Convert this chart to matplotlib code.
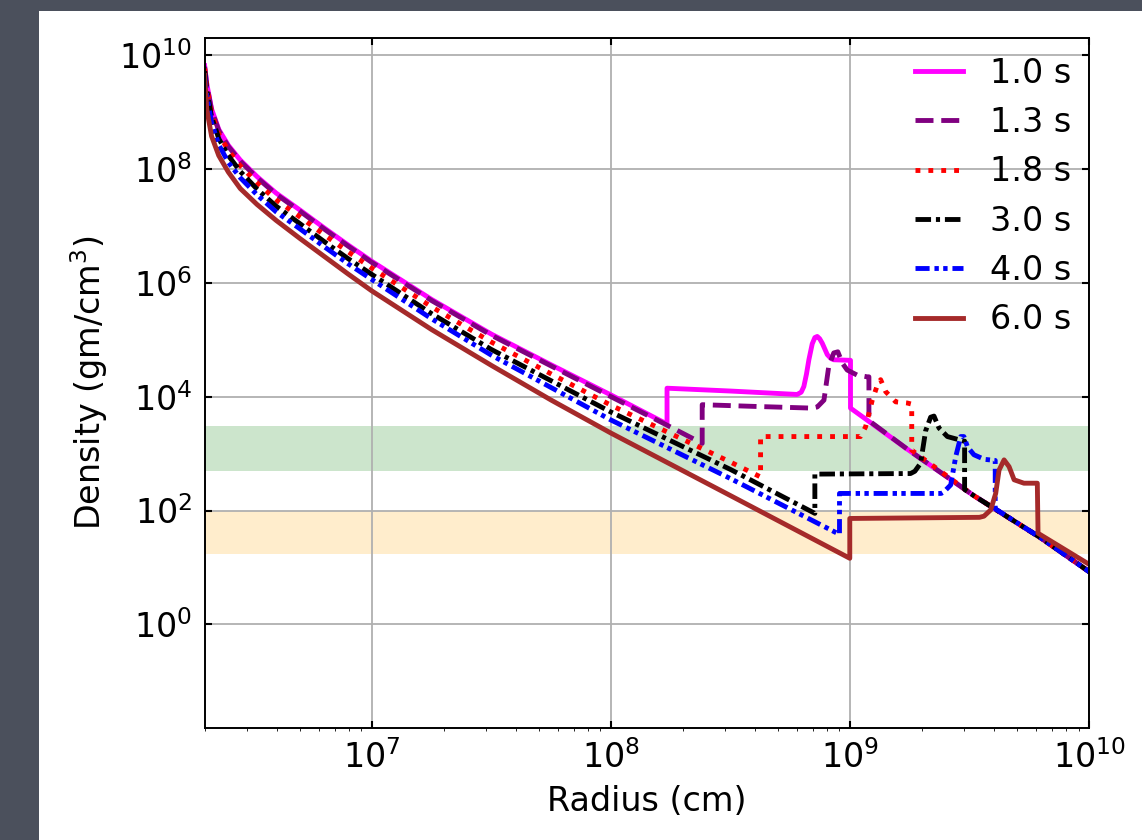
import numpy as np
import matplotlib.pyplot as plt
from matplotlib.patches import Rectangle

# log10(radius / cm) and log10(density / g cm^-3)
r_inner = [6.301, 6.31, 6.33, 6.36, 6.40, 6.45, 6.52, 6.60, 6.70, 6.80, 6.90,
           7.00, 7.25, 7.50, 7.75, 8.00]

r_10 = r_inner + [8.234, 8.234, 8.50, 8.778, 8.795, 8.806, 8.817, 8.827, 8.841,
                  8.852, 8.862, 8.872, 8.883, 8.904, 8.920, 8.931, 9.001,
                  9.001, 9.238, 9.517, 9.796, 10.0]
d_10 = [9.82, 9.50, 9.06, 8.70, 8.42, 8.16, 7.87, 7.58, 7.28, 6.97, 6.67,
        6.38, 5.71, 5.10, 4.56, 4.03,
        3.52, 4.15, 4.10, 4.04, 4.08, 4.18, 4.40, 4.65, 4.93,
        5.04, 5.06, 5.02, 4.94, 4.74, 4.67, 4.65, 4.64,
        3.80, 3.08, 2.26, 1.52, 0.92]

r_13 = r_inner + [8.234, 8.381, 8.381, 8.60, 8.84, 8.862, 8.890, 8.910, 8.931,
                  8.948, 8.967, 8.987, 9.029, 9.071, 9.078, 9.078, 9.238,
                  9.517, 9.796, 10.0]
d_13 = [9.80, 9.48, 9.04, 8.68, 8.40, 8.14, 7.85, 7.56, 7.26, 6.95, 6.65,
        6.36, 5.69, 5.08, 4.54, 4.00,
        3.50, 3.18, 3.86, 3.83, 3.80, 3.82, 3.94, 4.53, 4.77,
        4.79, 4.59, 4.47, 4.38, 4.35, 4.35, 3.58, 3.08,
        2.26, 1.52, 0.92]

r_18 = r_inner + [8.25, 8.50, 8.625, 8.625, 9.043, 9.064, 9.092, 9.113, 9.127,
                  9.148, 9.190, 9.238, 9.257, 9.257, 9.517, 9.796, 10.0]
d_18 = [9.77, 9.44, 8.99, 8.62, 8.33, 8.06, 7.76, 7.46, 7.16, 6.85, 6.55,
        6.26, 5.58, 4.96, 4.40, 3.85,
        3.35, 2.85, 2.59, 3.30, 3.30, 3.47, 3.94, 4.20, 4.30,
        4.09, 3.91, 3.89, 3.87, 3.06, 2.26, 1.52, 0.92]

r_30 = r_inner + [8.50, 8.852, 8.852, 9.252, 9.270, 9.294, 9.315, 9.336, 9.350,
                  9.371, 9.406, 9.475, 9.478, 9.478, 9.517, 9.796, 10.0]
d_30 = [9.72, 9.38, 8.92, 8.54, 8.24, 7.96, 7.65, 7.35, 7.04, 6.73, 6.43,
        6.15, 5.46, 4.83, 4.28, 3.73,
        2.72, 1.95, 2.64, 2.65, 2.69, 2.83, 3.40, 3.64, 3.66,
        3.45, 3.30, 3.22, 3.22, 2.37, 2.26, 1.52, 0.92]

r_40 = r_inner + [8.50, 8.955, 8.955, 9.380, 9.392, 9.420, 9.441, 9.462, 9.475,
                  9.490, 9.517, 9.560, 9.606, 9.606, 9.796, 10.0]
d_40 = [9.67, 9.30, 8.82, 8.43, 8.12, 7.85, 7.55, 7.25, 6.95, 6.64, 6.34,
        6.06, 5.37, 4.73, 4.16, 3.59,
        2.56, 1.58, 2.30, 2.30, 2.33, 2.45, 2.95, 3.30, 3.30,
        3.12, 2.98, 2.90, 2.88, 2.03, 1.52, 0.92]

r_60 = r_inner + [8.50, 8.998, 8.998, 9.540, 9.559, 9.587, 9.608, 9.622, 9.643,
                  9.664, 9.685, 9.726, 9.782, 9.785, 10.0]
d_60 = [9.65, 9.05, 8.58, 8.24, 7.95, 7.66, 7.38, 7.10, 6.78, 6.47, 6.16,
        5.86, 5.18, 4.55, 3.94, 3.36,
        2.26, 1.16, 1.86, 1.88, 1.90, 2.01, 2.30, 2.71, 2.89,
        2.77, 2.54, 2.48, 2.48, 1.60, 1.05]

labels = ['1.0 s', '1.3 s', '1.8 s', '3.0 s', '4.0 s', '6.0 s']
radii = [r_10, r_13, r_18, r_30, r_40, r_60]
dens = [d_10, d_13, d_18, d_30, d_40, d_60]
colors = ['magenta', 'purple', 'red', 'black', 'blue', 'brown']
styles = ['-', '--', ':', (0, (3.2, 1.0, 0.85, 1.0)),
          (0, (2.9, 1.0, 0.9, 0.9, 0.9, 1.0)), '-']

# density bands
green_band = (500, 3000)
orange_band = (17, 100)

fig = plt.figure(figsize=(11.42, 8.40), dpi=100, facecolor='#4b505c')
fig.patches.append(Rectangle((39 / 1142, 0), 1, 1 - 11 / 840,
                             transform=fig.transFigure, facecolor='white',
                             edgecolor='none', zorder=-10))
ax = fig.add_axes([0.1792, 0.1333, 0.7748, 0.8211])
ax.set_zorder(1)

ax.axhspan(*green_band, color='green', alpha=0.2, lw=0)
ax.axhspan(*orange_band, color='orange', alpha=0.2, lw=0)

for r, d, lab, c, ls in zip(radii, dens, labels, colors, styles):
    ax.plot(10 ** np.array(r), 10 ** np.array(d), color=c, ls=ls, lw=3.5,
            label=lab)

ax.set_xscale('log')
ax.set_yscale('log')
ax.set_xlim(2e6, 1e10)
ax.set_ylim(0.015, 2e10)
ax.set_yticks([1e0, 1e2, 1e4, 1e6, 1e8, 1e10])
ax.grid(True, color='#b0b0b0', lw=1.3)
ax.tick_params(direction='in', top=True, right=True, length=5, width=1.5,
               labelsize=24, pad=9)
for s in ax.spines.values():
    s.set_linewidth(1.4)

ax.set_xlabel('Radius (cm)', fontsize=24, labelpad=7)
ax.set_ylabel('Density (gm/cm$^3$)', fontsize=24, labelpad=7)
ax.legend(loc='upper right', frameon=False, fontsize=24, handlelength=1.45,
          handletextpad=0.8, labelspacing=0.49, borderaxespad=0.15)

fig.savefig('out.png', dpi=100, facecolor=fig.get_facecolor())
